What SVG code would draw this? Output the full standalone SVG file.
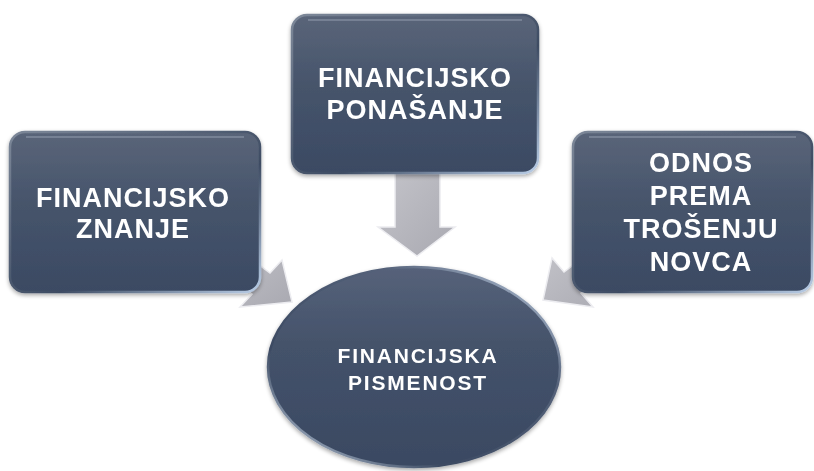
<svg xmlns="http://www.w3.org/2000/svg" width="814" height="471" viewBox="0 0 814 471">
<defs>
<linearGradient id="boxg" x1="0" y1="0" x2="0" y2="1">
<stop offset="0" stop-color="#5a6579"/>
<stop offset="0.45" stop-color="#46546b"/>
<stop offset="1" stop-color="#3b4a63"/>
</linearGradient>
<linearGradient id="edge" x1="0" y1="0" x2="1" y2="1">
<stop offset="0" stop-color="#7d8899"/>
<stop offset="0.6" stop-color="#3e4c63"/>
<stop offset="1" stop-color="#b9cde6"/>
</linearGradient>
<linearGradient id="ellg" x1="0" y1="0" x2="0" y2="1">
<stop offset="0" stop-color="#56627a"/>
<stop offset="0.4" stop-color="#44526a"/>
<stop offset="1" stop-color="#3a4962"/>
</linearGradient>
<linearGradient id="ellEdge" x1="1" y1="0" x2="0" y2="1">
<stop offset="0" stop-color="#c6d6ea"/>
<stop offset="0.3" stop-color="#55627a"/>
<stop offset="0.7" stop-color="#3c4a62"/>
<stop offset="1" stop-color="#c9d7e8"/>
</linearGradient>
<linearGradient id="arrg" x1="0" y1="0" x2="1" y2="1">
<stop offset="0" stop-color="#c4c4ca"/>
<stop offset="1" stop-color="#a9a9b1"/>
</linearGradient>
<filter id="sh" x="-10%" y="-10%" width="120%" height="125%">
<feGaussianBlur in="SourceAlpha" stdDeviation="2"/>
<feOffset dx="0" dy="2"/>
<feComponentTransfer><feFuncA type="linear" slope="0.35"/></feComponentTransfer>
<feMerge><feMergeNode/><feMergeNode in="SourceGraphic"/></feMerge>
</filter>
</defs>
<style>
.box{fill:url(#boxg);stroke:url(#edge);stroke-width:2.5}
.hl{fill:none;stroke:#8a95a6;stroke-width:2;opacity:0.6}
.arr{fill:url(#arrg);stroke:#ececf0;stroke-width:1.5;stroke-linejoin:miter}
.t{font-family:"Liberation Sans",Arial,sans-serif;font-weight:bold;fill:#ffffff;text-anchor:middle}
.big{font-size:27px;letter-spacing:1px}
.sm{font-size:21px;letter-spacing:1.8px}
</style>
<rect width="814" height="471" fill="#ffffff"/>
<g id="connectors">
<polygon class="arr" points="230,243 270,273 282,260 292,302 240,307 252,294 212,264"/>
<polygon class="arr" points="604,242 564,272 552,258 543,300 593,307 581,293 621,263"/>
<polygon class="arr" points="395,170 440,170 440,227 455,227 417,256 378,227 395,227"/>
</g>
<g id="node-znanje" filter="url(#sh)">
<rect class="box" x="10" y="132" width="250" height="160" rx="15"/>
<line class="hl" x1="26" y1="137" x2="244" y2="137"/>
<text class="t big" x="133" y="207">FINANCIJSKO</text>
<text class="t big" x="133" y="238">ZNANJE</text>
</g>
<g id="node-ponasanje" filter="url(#sh)">
<rect class="box" x="292" y="15" width="246" height="158" rx="15"/>
<line class="hl" x1="308" y1="20" x2="522" y2="20"/>
<text class="t big" x="415" y="87">FINANCIJSKO</text>
<text class="t big" x="415" y="119">PONAŠANJE</text>
</g>
<g id="node-odnos" filter="url(#sh)">
<rect class="box" x="573" y="132" width="239" height="160" rx="15"/>
<line class="hl" x1="589" y1="137" x2="796" y2="137"/>
<text class="t big" x="701" y="172">ODNOS</text>
<text class="t big" x="701" y="205">PREMA</text>
<text class="t big" x="701" y="238">TROŠENJU</text>
<text class="t big" x="701" y="271">NOVCA</text>
</g>
<g id="node-pismenost" filter="url(#sh)">
<ellipse cx="414" cy="367" rx="146" ry="100" fill="url(#ellg)" stroke="url(#ellEdge)" stroke-width="2.5"/>
<text class="t sm" x="418" y="363">FINANCIJSKA</text>
<text class="t sm" x="418" y="390">PISMENOST</text>
</g>
</svg>
